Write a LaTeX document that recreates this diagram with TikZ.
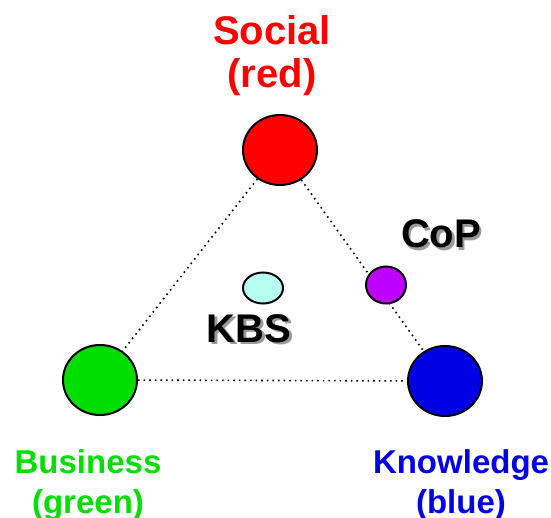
\documentclass[tikz,border=0pt]{standalone}
\usepackage{xcolor}
\usepackage{fontspec}
\setmainfont{Liberation Sans}
\usepackage{tikz}
\usetikzlibrary{shapes}
\usetikzlibrary{shapes.geometric}
\tikzset{>=latex}

\definecolor{socialred}{RGB}{255,0,0}
\definecolor{businessgreen}{RGB}{0,222,0}
\definecolor{knowblue}{RGB}{0,0,228}
\definecolor{coppurple}{RGB}{190,0,255}
\definecolor{kbscyan}{RGB}{180,255,240}

\tikzstyle{pole} = [ellipse, draw=black, line width=1pt, minimum width=37pt, minimum height=35pt, inner sep=0]
\tikzstyle{small} = [ellipse, draw=black, line width=1pt, minimum width=20pt, inner sep=0]
\tikzstyle{link} = [-, dotted, line width=0.8pt, draw=black]
\tikzstyle{big} = [anchor=base, inner sep=0, font=\fontsize{20}{21.5}\selectfont\bfseries, align=center]
\tikzstyle{foot} = [anchor=base, inner sep=0, font=\fontsize{16.5}{20}\selectfont\bfseries, align=center]

\begin{document}
\begin{tikzpicture}[x=0.5pt, y=-0.5pt]
\useasboundingbox (0, 0) rectangle (551, 518);
\node [pole, fill=socialred]      (S) at (280, 150) {};
\node [pole, fill=businessgreen]  (B) at (100, 380) {};
\node [pole, fill=knowblue]       (K) at (445, 381) {};
\draw [link] (S) to (B);
\draw [link] (S) to (K);
\draw [link] (B) to (K);
\node [small, fill=coppurple, minimum height=18.5pt] (C) at (386, 285) {};
\node [small, fill=kbscyan, minimum height=15.5pt]   (X) at (263, 288) {};
% labels of the three poles (base = last line)
\node [big, text=socialred]       (Slab) at (272, 88) {Social\\(red)};
\node [foot, text=businessgreen]  (Blab) at (88, 513) {Business\\(green)};
\node [foot, text=knowblue]       (Klab) at (461, 513) {Knowledge\\(blue)};
% shaded labels
\node [big, text=black!40] (Cs) at (443.5, 250.5) {CoP};
\node [big, text=black]    (Ct) at (441, 248) {CoP};
\node [big, text=black!40] (Xs) at (251.5, 344.5) {KBS};
\node [big, text=black]    (Xt) at (249, 342) {KBS};
\end{tikzpicture}
\end{document}
